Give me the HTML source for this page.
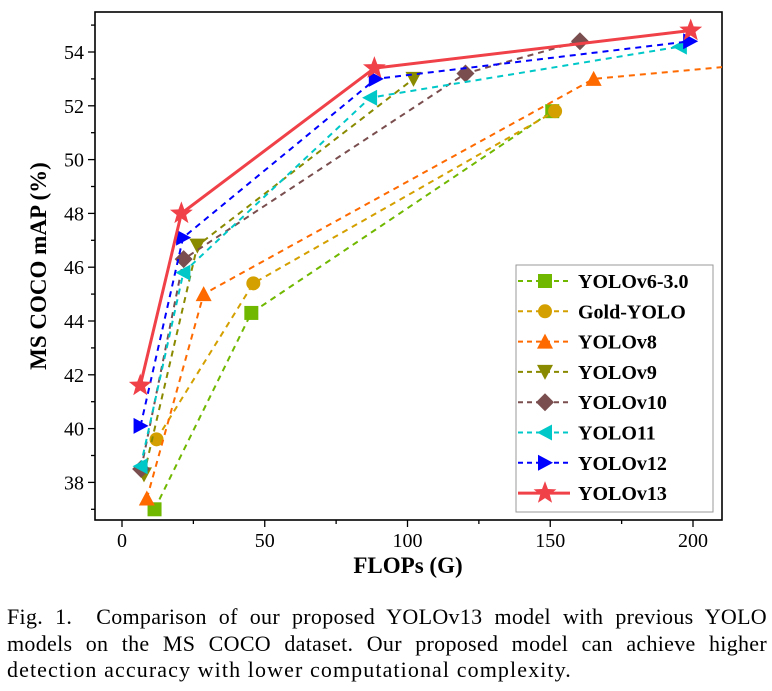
<!DOCTYPE html>
<html><head><meta charset="utf-8"><style>
body{margin:0;background:#fff;width:772px;height:691px;overflow:hidden;font-family:"Liberation Serif",serif}
#cap{position:absolute;left:7px;top:604px;width:760px;font-size:22px;line-height:26.5px;letter-spacing:1.1px;color:#000}
#cap div{text-align:justify;text-align-last:justify;white-space:nowrap}
#cap div.last{text-align-last:left}
</style></head><body>
<svg id="chart" width="772" height="600" style="position:absolute;left:0;top:0" font-family="Liberation Serif, serif"></svg>
<div id="cap"><div style="white-space:normal;letter-spacing:0.3px">Fig. 1.&nbsp; Comparison of our proposed YOLOv13 model with previous YOLO</div><div style="white-space:normal;letter-spacing:0.3px">models on the MS COCO dataset. Our proposed model can achieve higher</div><div class="last">detection accuracy with lower computational complexity.</div></div>
<script>
const seriesNames=["YOLOv6-3.0","Gold-YOLO","YOLOv8","YOLOv9","YOLOv10","YOLO11","YOLOv12","YOLOv13"];
const flopsV6=[11.4,45.3,150.7];const mapV6=[37.0,44.3,51.8];
const flopsGold=[12.1,46.0,151.7];const mapGold=[39.6,45.4,51.8];
const flopsV8=[8.7,28.6,165.2,257.8];const mapV8=[37.4,45.0,53.0,53.9];
const flopsV9=[7.7,26.4,102.1];const mapV9=[38.3,46.8,53.0];
const flopsV10=[6.7,21.6,120.3,160.4];const mapV10=[38.5,46.3,53.2,54.4];
const flops11=[6.5,21.5,86.9,195.4];const map11=[38.6,45.8,52.3,54.2];
const flopsV12=[6.5,21.4,88.9,199.0];const mapV12=[40.1,47.1,53.0,54.4];
const flopsV13=[6.4,20.8,88.4,199.2];const mapV13=[41.6,48.0,53.4,54.8];
const xTicks=[0,50,100,150,200];const yTicks=[38,40,42,44,46,48,50,52,54];
const NS="http://www.w3.org/2000/svg";const svg=document.getElementById('chart');
const L=95,R=722,T=12,B=520;
const sx=v=>122+v*2.855;const sy=v=>52+(54-v)*26.9;
function mk(t,a,p){const e=document.createElementNS(NS,t);for(const k in a)e.setAttribute(k,a[k]);(p||svg).appendChild(e);return e;}
const defs=mk('defs',{});const cp=mk('clipPath',{id:'cp'},defs);mk('rect',{x:L,y:T,width:R-L,height:B-T},cp);
const frame=mk('rect',{x:L,y:T,width:R-L,height:B-T,fill:'none',stroke:'#000','stroke-width':1.6});


for(let v=37;v<=55;v++){const y=sy(v);if(y<T||y>B)continue;const maj=yTicks.includes(v);
 const tk=mk('line',{x1:L,x2:L-(maj?7:4),y1:y,y2:y,stroke:'#000','stroke-width':1.3});
 
 
 if(maj){const t=mk('text',{x:L-11,y:y+7,'text-anchor':'end','font-size':20});t.textContent=v;
 
 }}
for(let v=0;v<=200;v+=25){const x=sx(v);const maj=xTicks.includes(v);
 const tk=mk('line',{x1:x,x2:x,y1:B,y2:B+(maj?7:4),stroke:'#000','stroke-width':1.3});
 
 
 if(maj){const t=mk('text',{x:x,y:B+27,'text-anchor':'middle','font-size':20});t.textContent=v;
 
 }}
const xt=mk('text',{x:408,y:573,'text-anchor':'middle','font-size':23,'font-weight':'bold'});xt.textContent='FLOPs (G)';


const yt=mk('text',{x:0,y:0,'text-anchor':'middle','font-size':23,'font-weight':'bold',transform:'translate(46,266) rotate(-90)'});yt.textContent='MS COCO mAP (%)';


const styles=[{c:'#70b800',m:'sq'},{c:'#d4a000',m:'ci'},{c:'#ff6a00',m:'up'},{c:'#8a8a00',m:'dn'},{c:'#7a4e4e',m:'di'},{c:'#00c8c8',m:'lt'},{c:'#0000ff',m:'rt'},{c:'#f04048',m:'st'}];
const xs=[flopsV6,flopsGold,flopsV8,flopsV9,flopsV10,flops11,flopsV12,flopsV13];
const ys=[mapV6,mapGold,mapV8,mapV9,mapV10,map11,mapV12,mapV13];
function marker(m,x,y,c,g){const s=7;
 if(m=='sq')return mk('rect',{x:x-s,y:y-s,width:2*s,height:2*s,fill:c},g);
 if(m=='ci')return mk('circle',{cx:x,cy:y,r:7,fill:c},g);
 let p;
 if(m=='up')p=[[0,-8],[8,7],[-8,7]];if(m=='dn')p=[[0,8],[8,-7],[-8,-7]];
 if(m=='lt')p=[[-8,0],[7,-8],[7,8]];if(m=='rt')p=[[8,0],[-7,-8],[-7,8]];
 if(m=='di')p=[[0,-9],[9,0],[0,9],[-9,0]];
 if(m=='st'){p=[];for(let i=0;i<10;i++){const r=i%2?5:12,a=-Math.PI/2+i*Math.PI/5;p.push([r*Math.cos(a),r*Math.sin(a)]);}}
 return mk('polygon',{points:p.map(q=>(x+q[0])+','+(y+q[1])).join(' '),fill:c},g);}
styles.forEach((st,i)=>{const g=mk('g',{'clip-path':'url(#cp)'});
 
 
 const pts=xs[i].map((f,j)=>sx(f)+','+sy(ys[i][j])).join(' ');
 const ln=mk('polyline',{points:pts,fill:'none',stroke:st.c,'stroke-width':i==7?3:2,'stroke-dasharray':i==7?'none':'6,5'},g);
 
 
 xs[i].forEach((f,j)=>{const mm=marker(st.m,sx(f),sy(ys[i][j]),st.c,g);
 
 });});
const lg=mk('g',{});

mk('rect',{x:516,y:265,width:197,height:247,fill:'#fff',stroke:'#999','stroke-width':1},lg);
styles.forEach((st,i)=>{const y=281+i*30.3;const e=mk('g',{},lg);
 
 
 mk('line',{x1:518,x2:570,y1:y,y2:y,stroke:st.c,'stroke-width':i==7?3:2,'stroke-dasharray':i==7?'none':'5,4'},e);
 marker(st.m,545,y,st.c,e);
 const t=mk('text',{x:578,y:y+7,'font-size':20,'font-weight':'bold'},e);t.textContent=seriesNames[i];});
</script>
</body></html>
